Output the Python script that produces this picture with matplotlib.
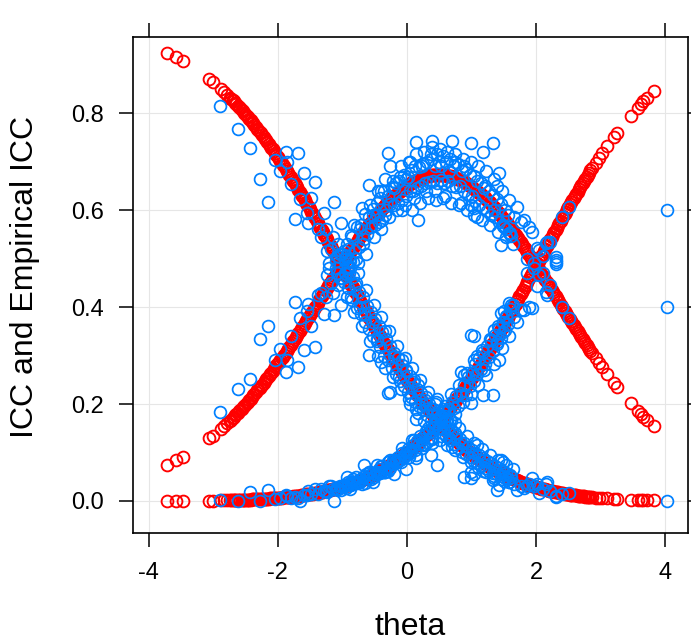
import matplotlib

matplotlib.use('Agg')
import matplotlib.pyplot as plt

plt.rcParams['font.family'] = ['Liberation Sans', 'DejaVu Sans']

# model ICC (red): person theta and category probabilities
red_theta = [
    -3.71, -3.57, -3.47, -3.06, -3.00, -2.88, -2.83, -2.78,
    -2.74, -2.70, -2.66, -2.62, -2.58, -2.54, -2.50, -2.46, -2.42, -2.38,
    -2.34, -2.30, -2.26, -2.22, -2.18, -2.14, -2.10, -2.06, -2.02, -1.98,
    -1.94, -1.90, -1.86, -1.82, -1.78, -1.74, -1.70, -1.66, -1.62, -1.58,
    -1.54, -1.50, -1.46, -1.42, -1.38, -1.34, -1.30, -1.26, -1.22, -1.18,
    -1.14, -1.10, -1.06, -1.02, -0.98, -0.94, -0.90, -0.86, -0.82, -0.78,
    -0.74, -0.70, -0.66, -0.62, -0.58, -0.54, -0.50, -0.46, -0.42, -0.38,
    -0.34, -0.30, -0.26, -0.22, -0.18, -0.14, -0.10, -0.06, -0.02, 0.02,
    0.06, 0.10, 0.14, 0.18, 0.22, 0.26, 0.30, 0.34, 0.38, 0.42,
    0.46, 0.50, 0.54, 0.58, 0.62, 0.66, 0.70, 0.74, 0.78, 0.82,
    0.86, 0.90, 0.94, 0.98, 1.02, 1.06, 1.10, 1.14, 1.18, 1.22,
    1.26, 1.30, 1.34, 1.38, 1.42, 1.46, 1.50, 1.54, 1.58, 1.62,
    1.66, 1.70, 1.74, 1.78, 1.82, 1.86, 1.90, 1.94, 1.98, 2.02,
    2.06, 2.10, 2.14, 2.18, 2.22, 2.26, 2.30, 2.34, 2.38, 2.42,
    2.46, 2.50, 2.54, 2.58, 2.62, 2.66, 2.70, 2.74, 2.78, 2.82,
    2.86,
    2.92, 2.97, 3.02, 3.10, 3.20, 3.25, 3.46, 3.57, 3.62, 3.66, 3.71, 3.82,
]
red_p0 = [
    .925, .916, .908, .870, .864, .850, .844, .837,
    .832, .827, .821, .815, .810, .804, .798, .792, .785, .779,
    .772, .765, .758, .751, .744, .737, .729, .722, .714, .706,
    .698, .690, .681, .673, .665, .656, .647, .638, .629, .620,
    .611, .602, .592, .583, .573, .564, .554, .545, .535, .525,
    .515, .505, .496, .486, .476, .466, .456, .446, .436, .426,
    .417, .407, .397, .388, .378, .369, .359, .350, .341, .331,
    .322, .313, .305, .296, .287, .279, .270, .262, .254, .246,
    .238, .231, .223, .216, .208, .201, .194, .188, .181, .174,
    .168, .162, .156, .150, .144, .139, .133, .128, .123, .118,
    .113, .109, .104, .100, .096, .091, .088, .084, .080, .076,
    .073, .070, .066, .063, .060, .058, .055, .052, .050, .047,
    .045, .043, .041, .038, .037, .035, .033, .031, .029, .028,
    .026, .025, .024, .022, .021, .020, .019, .018, .017, .016,
    .015, .014, .013, .012, .012, .011, .010, .010, .009, .009,
    .008,
    .007, .007, .006, .006, .005, .004, .003, .003, .002, .002, .002, .002,
]
red_p1 = [
    .074, .084, .091, .129, .135, .149, .155, .161,
    .166, .171, .177, .182, .188, .193, .199, .205, .211, .218,
    .224, .231, .237, .244, .251, .258, .265, .272, .280, .287,
    .295, .302, .310, .318, .326, .334, .342, .350, .359, .367,
    .375, .384, .392, .401, .409, .418, .426, .435, .443, .452,
    .460, .469, .477, .486, .494, .502, .510, .518, .526, .534,
    .542, .549, .557, .564, .571, .578, .585, .591, .598, .604,
    .610, .615, .621, .626, .631, .636, .640, .644, .648, .652,
    .655, .658, .661, .664, .666, .668, .670, .671, .672, .673,
    .673, .673, .673, .672, .671, .670, .669, .667, .665, .663,
    .660, .657, .654, .650, .646, .642, .638, .633, .629, .623,
    .618, .613, .607, .601, .594, .588, .581, .575, .567, .560,
    .553, .545, .538, .530, .522, .514, .506, .498, .490, .482,
    .473, .465, .456, .448, .439, .431, .422, .414, .405, .396,
    .388, .380, .371, .363, .355, .346, .338, .330, .322, .314,
    .306,
    .295, .285, .276, .262, .244, .236, .202, .186, .179, .174, .167, .154,
]
red_p2 = [
    .000, .000, .001, .001, .001, .002, .002, .002,
    .002, .002, .002, .002, .003, .003, .003, .003, .003, .004,
    .004, .004, .004, .005, .005, .005, .006, .006, .006, .007,
    .007, .008, .008, .009, .009, .010, .011, .011, .012, .013,
    .014, .014, .015, .016, .017, .018, .019, .021, .022, .023,
    .024, .026, .027, .029, .030, .032, .034, .036, .037, .039,
    .042, .044, .046, .048, .051, .053, .056, .059, .062, .065,
    .068, .071, .075, .078, .082, .086, .089, .094, .098, .102,
    .106, .111, .116, .121, .126, .131, .136, .142, .147, .153,
    .159, .165, .171, .178, .184, .191, .198, .205, .212, .219,
    .227, .234, .242, .250, .258, .266, .274, .283, .291, .300,
    .309, .318, .327, .336, .345, .354, .364, .373, .383, .392,
    .402, .412, .422, .431, .441, .451, .461, .471, .481, .491,
    .500, .510, .520, .530, .540, .550, .559, .569, .578, .588,
    .597, .607, .616, .625, .634, .643, .652, .660, .669, .677,
    .686,
    .698, .708, .718, .733, .751, .760, .795, .811, .818, .824, .831, .845,
]

# second group of persons on the red curves (between the first ones)
red2_theta = [
    -2.72, -2.68, -2.64, -2.60, -2.56, -2.52, -2.48, -2.44, -2.40, -2.36,
    -2.32, -2.28, -2.24, -2.20, -2.16, -2.12, -2.08, -2.04, -2.00, -1.96,
    -1.92, -1.88, -1.84, -1.80, -1.76, -1.72, -1.68, -1.64, -1.60, -1.56,
    -1.52, -1.48, -1.44, -1.40, -1.36, -1.32, -1.28, -1.24, -1.20, -1.16,
    -1.12, -1.08, -1.04, -1.00, -0.96, -0.92, -0.88, -0.84, -0.80, -0.76,
    -0.72, -0.68, -0.64, -0.60, -0.56, -0.52, -0.48, -0.44, -0.40, -0.36,
    -0.32, -0.28, -0.24, -0.20, -0.16, -0.12, -0.08, -0.04, 0.00, 0.04,
    0.08, 0.12, 0.16, 0.20, 0.24, 0.28, 0.32, 0.36, 0.40, 0.44,
    0.48, 0.52, 0.56, 0.60, 0.64, 0.68, 0.72, 0.76, 0.80, 0.84,
    0.88, 0.92, 0.96, 1.00, 1.04, 1.08, 1.12, 1.16, 1.20, 1.24,
    1.28, 1.32, 1.36, 1.40, 1.44, 1.48, 1.52, 1.56, 1.60, 1.64,
    1.68, 1.72, 1.76, 1.80, 1.84, 1.88, 1.92, 1.96, 2.00, 2.04,
    2.08, 2.12, 2.16, 2.20, 2.24, 2.28, 2.32, 2.36, 2.40, 2.44,
    2.48, 2.52, 2.56, 2.60, 2.64, 2.68, 2.72, 2.76, 2.80, 2.84,
]
red2_p0 = [
    .830, .824, .818, .812, .807, .801, .795, .788, .782, .776,
    .768, .761, .754, .747, .740, .733, .725, .718, .710, .702,
    .694, .685, .677, .669, .660, .651, .642, .633, .624, .615,
    .606, .597, .587, .578, .568, .559, .549, .540, .530, .520,
    .510, .500, .491, .481, .471, .461, .451, .441, .431, .421,
    .412, .402, .392, .383, .373, .364, .354, .345, .336, .326,
    .317, .309, .300, .291, .283, .274, .266, .258, .250, .242,
    .234, .227, .219, .212, .204, .197, .191, .184, .177, .171,
    .165, .159, .153, .147, .141, .136, .130, .125, .120, .115,
    .111, .106, .102, .098, .093, .089, .086, .082, .078, .074,
    .071, .068, .064, .061, .059, .056, .053, .051, .048, .046,
    .044, .042, .039, .037, .036, .034, .032, .030, .028, .027,
    .025, .024, .023, .021, .020, .019, .018, .017, .016, .015,
    .014, .013, .012, .012, .011, .010, .010, .009, .009, .008,
]
red2_p1 = [
    .168, .174, .180, .185, .190, .196, .202, .208, .214, .221,
    .228, .234, .240, .248, .254, .262, .268, .276, .284, .291,
    .298, .306, .314, .322, .330, .338, .346, .354, .363, .371,
    .380, .388, .396, .405, .414, .422, .430, .439, .448, .456,
    .464, .473, .482, .490, .498, .506, .514, .522, .530, .538,
    .546, .553, .560, .568, .574, .582, .588, .594, .601, .607,
    .612, .618, .624, .628, .634, .638, .642, .646, .650, .654,
    .657, .660, .662, .665, .667, .669, .670, .672, .672, .673,
    .673, .673, .673, .672, .670, .670, .668, .666, .664, .662,
    .658, .656, .652, .648, .644, .640, .636, .631, .626, .620,
    .616, .610, .604, .598, .591, .584, .578, .571, .564, .556,
    .549, .542, .534, .526, .518, .510, .502, .494, .486, .478,
    .469, .460, .452, .444, .435, .426, .418, .410, .400, .392,
    .384, .376, .367, .359, .350, .342, .334, .326, .318, .310,
]
red2_p2 = [
    .002, .002, .002, .003, .003, .003, .003, .003, .004, .004,
    .004, .004, .005, .005, .005, .006, .006, .006, .007, .007,
    .008, .008, .009, .009, .010, .011, .011, .012, .013, .014,
    .014, .015, .016, .017, .018, .019, .020, .022, .023, .024,
    .025, .027, .028, .030, .031, .033, .035, .037, .038, .041,
    .043, .045, .047, .050, .052, .055, .058, .061, .064, .067,
    .070, .073, .077, .080, .084, .088, .092, .096, .100, .104,
    .109, .114, .119, .124, .129, .134, .139, .145, .150, .156,
    .162, .168, .175, .181, .188, .195, .202, .209, .216, .223,
    .231, .238, .246, .254, .262, .270, .279, .287, .296, .305,
    .314, .323, .332, .341, .350, .359, .369, .378, .388, .397,
    .407, .417, .427, .436, .446, .456, .466, .476, .486, .496,
    .505, .515, .525, .535, .545, .554, .564, .574, .583, .592,
    .602, .612, .621, .630, .638, .648, .656, .664, .673, .682,
]

# empirical ICC (blue)
blue_theta = [
    -2.90, -2.62, -2.43, -2.28, -2.15, -2.04, -1.96, -1.88, -1.85, -1.79,
    -1.74, -1.68, -1.65, -1.60, -1.55, -1.53, -1.48, -1.43, -1.38, -1.33,
    -1.28, -1.23, -1.18, -1.13, -1.10, -1.06, -1.02,
    -0.98, -0.95, -0.92, -0.89, -0.86, -0.83, -0.80, -0.77, -0.74, -0.71,
    -0.68, -0.65, -0.62, -0.59, -0.56, -0.53, -0.50, -0.47, -0.44, -0.41,
    -0.38, -0.35, -0.32, -0.29, -0.26, -0.23, -0.20, -0.17, -0.14, -0.11,
    -0.08, -0.05, -0.02, 0.01, 0.04, 0.07, 0.10, 0.13, 0.16, 0.19,
    0.22, 0.25, 0.28, 0.31, 0.34, 0.37, 0.40, 0.43, 0.46, 0.49,
    0.52, 0.55, 0.58, 0.61, 0.64, 0.67, 0.70, 0.73, 0.76, 0.79,
    0.82, 0.85, 0.88, 0.91, 0.94, 0.97, 1.00, 1.03, 1.06, 1.09,
    1.12, 1.15, 1.18, 1.21, 1.24, 1.27, 1.30, 1.33, 1.36, 1.39,
    1.42, 1.45, 1.48, 1.51, 1.54, 1.57, 1.60,
    -0.965, -0.905, -0.845, -0.785, -0.725, -0.665, -0.58, -0.52, -0.46, -0.40,
    -0.34, -0.29, -0.27, -0.20, -0.13, -0.07, -0.01, 0.05, 0.11, 0.14,
    0.17, 0.23, 0.29, 0.37, 0.38, 0.44, 0.47, 0.53, 0.59, 0.65,
    0.69, 0.75, 0.83, 0.89, 0.99, 0.995, 1.04, 1.09, 1.17, 1.19,
    1.33, 1.35, 1.40, 1.43, 1.45, 1.48, 1.50, 1.58, 1.61,
    1.66, 1.71, 1.76, 1.81, 1.86, 1.89, 1.94, 1.97, 2.02, 2.05,
    2.10, 2.15, 2.17, 2.22, 2.30, 2.31, 2.40, 2.51, 4.03,
    -1.25, -1.20, -1.15, -1.08, -1.04, -1.00,
    -0.935, -0.875, -0.815, -0.755, -0.695, -0.635, -0.575, -0.515, -0.455, -0.395,
    -0.335, -0.275, -0.215, -0.155, -0.095, -0.035, 0.025, 0.085, 0.145, 0.205,
    0.265, 0.325, 0.385, 0.445, 0.505, 0.565, 0.625, 0.685, 0.745, 0.805,
    0.865, 0.925, 0.985, 1.045, 1.105, 1.165, 1.225, 1.285, 1.345, 1.405,
    1.465, 1.525, 1.585, 1.645,
]
blue_p0 = [
    .814, .768, .729, .665, .617, .704, .681, .720, .700, .654,
    .581, .718, .622, .676, .595, .573, .625, .658, .560, .545,
    .595, .515, .520, .616, .480, .530, .573,
    .452, .505, .440, .470, .420, .462, .445, .398, .432, .385,
    .420, .370, .402, .355, .390, .340, .375, .330, .360, .318,
    .348, .300, .335, .290, .320, .275, .305, .262, .295, .248,
    .280, .238, .268, .225, .258, .215, .245, .205, .232, .195,
    .222, .188, .208, .178, .200, .165, .190, .158, .180, .150,
    .172, .140, .162, .135, .150, .125, .145, .118, .135, .110,
    .128, .102, .120, .096, .112, .090, .105, .082, .100, .078,
    .095, .072, .088, .068, .082, .062, .078, .058, .072, .055,
    .068, .052, .062, .048, .058, .045, .053,
    .500, .480, .415, .450, .400, .385, .301, .370, .335, .287,
    .350, .222, .225, .300, .255, .290, .270, .200, .250, .170,
    .240, .200, .215, .190, .130, .200, .210, .135, .175, .130,
    .112, .140, .120, .050, .047, .060, .056, .115, .062, .085,
    .043, .047, .023, .033, .085, .081, .042, .040, .050,
    .035, .023, .030, .027, .030, .035, .047, .030, .035, .016,
    .025, .036, .040, .020, .008, .010, .015, .016, .000,
    .560, .490, .545, .505, .460, .510,
    .420, .495, .390, .470, .360, .435, .330, .405, .300, .380,
    .275, .350, .255, .320, .230, .295, .210, .275, .190, .250,
    .165, .225, .150, .205, .125, .185, .115, .165, .105, .150,
    .090, .135, .080, .120, .070, .108, .060, .095, .052, .085,
    .045, .075, .040, .065,
]
blue_p1 = [
    .184, .232, .252, .335, .360, .291, .313, .267, .290, .340,
    .411, .276, .378, .311, .392, .407, .361, .318, .425, .430,
    .385, .466, .450, .384, .495, .445, .405,
    .515, .468, .520, .497, .548, .493, .515, .565, .524, .570,
    .530, .592, .550, .585, .565, .602, .570, .615, .575, .625,
    .580, .640, .600, .630, .612, .648, .610, .655, .615, .668,
    .620, .672, .630, .668, .640, .682, .640, .690, .645, .688,
    .650, .695, .655, .700, .658, .705, .660, .690, .655, .700,
    .662, .712, .655, .700, .660, .705, .650, .690, .648, .695,
    .650, .680, .640, .685, .632, .672, .630, .670, .618, .660,
    .610, .655, .605, .650, .598, .640, .590, .632, .585, .622,
    .575, .612, .568, .600, .560, .590, .552,
    .470, .485, .545, .500, .560, .540, .652, .590, .590, .640,
    .590, .717, .690, .645, .660, .600, .665, .700, .625, .741,
    .579, .690, .640, .715, .743, .640, .716, .690, .630, .680,
    .743, .700, .614, .690, .611, .738, .604, .586, .719, .645,
    .738, .600, .650, .676, .528, .570, .566, .552, .546,
    .586, .607, .576, .579, .500, .565, .555, .480, .444, .518,
    .470, .432, .425, .445, .488, .497, .400, .377, .400,
    .420, .480, .430, .470, .510, .460,
    .530, .480, .570, .490, .605, .510, .610, .545, .640, .560,
    .665, .585, .660, .600, .690, .610, .700, .600, .715, .615,
    .720, .625, .730, .620, .725, .625, .720, .615, .715, .610,
    .705, .600, .700, .590, .690, .580, .680, .570, .665, .555,
    .640, .545, .620, .530,
]
blue_p2 = [
    .002, .000, .019, .000, .023, .005, .006, .013, .010, .006,
    .008, .006, .000, .013, .013, .020, .014, .024, .015, .025,
    .020, .019, .030, .000, .025, .025, .022,
    .033, .027, .040, .033, .032, .045, .040, .037, .044, .045,
    .050, .038, .048, .060, .045, .058, .055, .055, .065, .057,
    .072, .060, .065, .080, .068, .077, .085, .083, .090, .084,
    .100, .090, .102, .107, .102, .103, .115, .105, .123, .117,
    .128, .117, .137, .122, .142, .130, .150, .152, .165, .150,
    .166, .148, .183, .165, .190, .170, .205, .192, .217, .195,
    .222, .218, .240, .219, .256, .238, .265, .248, .282, .262,
    .295, .273, .307, .282, .320, .298, .332, .310, .343, .323,
    .357, .336, .370, .352, .382, .365, .395,
    .030, .035, .040, .050, .040, .075, .047, .040, .075, .073,
    .060, .061, .085, .055, .085, .110, .065, .100, .125, .089,
    .181, .110, .145, .095, .127, .160, .074, .175, .195, .190,
    .145, .160, .266, .260, .342, .202, .340, .299, .219, .270,
    .219, .353, .327, .291, .387, .349, .392, .408, .404,
    .379, .370, .394, .394, .470, .400, .398, .490, .521, .466,
    .505, .532, .535, .535, .504, .493, .585, .607, .600,
    .020, .030, .025, .025, .030, .030,
    .050, .025, .040, .040, .035, .055, .060, .050, .060, .060,
    .060, .065, .085, .080, .080, .095, .090, .125, .095, .135,
    .115, .150, .120, .175, .150, .190, .165, .220, .180, .240,
    .205, .265, .220, .290, .240, .312, .260, .335, .283, .360,
    .315, .380, .340, .405,
]

x_ticks = [-4, -2, 0, 2, 4]
x_labels = ['-4', '-2', '0', '2', '4']
y_ticks = [0.0, 0.2, 0.4, 0.6, 0.8]
y_labels = ['0.0', '0.2', '0.4', '0.6', '0.8']

fig = plt.figure(figsize=(6.91, 6.41), dpi=100)
ax = fig.add_axes([0.1925, 0.1685, 0.8032, 0.7738])

# grid behind the points
ax.grid(color='#e6e6e6', linewidth=0.8)
ax.set_axisbelow(True)

red_groups = [(red_theta, (red_p0, red_p1, red_p2)),
              (red2_theta, (red2_p0, red2_p1, red2_p2))]
for th, probs in red_groups:
    for p in probs:
        ax.plot(th, p, linestyle='none', marker='o', markersize=8.5,
                markerfacecolor='none', markeredgecolor='#ff0000', markeredgewidth=1.35)
for p in (blue_p0, blue_p1, blue_p2):
    ax.plot(blue_theta, p, linestyle='none', marker='o', markersize=8.5,
            markerfacecolor='none', markeredgecolor='#0080ff', markeredgewidth=1.25)

ax.set_xlim(-4.24, 4.35)
ax.set_ylim(-0.066, 0.957)
ax.set_xticks(x_ticks)
ax.set_xticklabels(x_labels)
ax.set_yticks(y_ticks)
ax.set_yticklabels(y_labels)
ax.tick_params(direction='out', length=10, width=1.1, top=True, right=True,
               labelsize=17, pad=11, colors='black', labelcolor='black')
for s in ax.spines.values():
    s.set_linewidth(1.2)
    s.set_color('black')

fig.text(25 / 691, 1 - 277 / 641, 'ICC and Empirical ICC', rotation=90,
         ha='center', va='center', fontsize=23, color='black')
fig.text(410 / 691, 1 - 627 / 641, 'theta', ha='center', va='center',
         fontsize=23, color='black')

fig.savefig('out.png', dpi=100)
